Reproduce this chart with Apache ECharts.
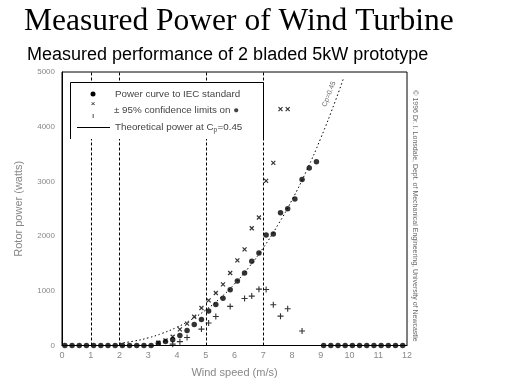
<!DOCTYPE html>
<html><head><meta charset="utf-8">
<script src="https://cdn.jsdelivr.net/npm/echarts@6/dist/echarts.min.js"></script>
<style>html,body{margin:0;padding:0;background:#fff}#c{width:512px;height:384px}</style>
</head><body><div id="c"></div>
<script>
// Power curve to IEC standard (bin speed m/s, power W)
const dotSpeeds = [0.1,0.35,0.6,0.85,1.1,1.35,1.6,1.85,2.1,2.35,2.6,2.85,3.1,3.35,3.6,3.85,4.1,4.35,4.6,4.85,5.1,5.35,5.6,5.85,6.1,6.35,6.6,6.85,7.1,7.35,7.6,7.85,8.1,8.35,8.6,8.85,
  9.1,9.35,9.6,9.85,10.1,10.35,10.6,10.85,11.1,11.35,11.6,11.85];
const dotPower = [0,0,0,0,0,0,0,0,0,0,0,0,0,40,75,105,185,275,385,475,630,750,865,1020,1180,1325,1540,1690,2020,2040,2425,2500,2680,3035,3245,3360,
  0,0,0,0,0,0,0,0,0,0,0,0];
// Upper 95% confidence limit (x)
const upSpeeds = [3.35,3.6,3.85,4.1,4.35,4.6,4.85,5.1,5.35,5.6,5.85,6.1,6.35,6.6,6.85,7.1,7.35,7.6,7.85];
const upPower  = [50,95,160,295,400,525,685,825,960,1117,1325,1557,1758,2143,2340,3010,3340,4320,4320];
// Lower 95% confidence limit (+)
const loSpeeds = [3.85,4.1,4.35,4.85,5.1,5.35,5.85,6.35,6.6,6.85,7.1,7.35,7.6,7.85,8.35];
const loPower  = [25,70,145,300,410,530,715,860,903,1030,1025,745,537,672,265];
// Theoretical power at Cp=0.45
const thSpeeds = [2,2.5,3,3.5,4,4.5,5,5.5,6,6.5,7,7.5,8,8.5,9,9.5,9.8];
const thPower  = [40,80,140,225,335,475,650,865,1125,1430,1785,2195,2660,3190,3790,4460,4900];
const xTicks = [0,1,2,3,4,5,6,7,8,9,10,11,12];
const yTicks = [0,1000,2000,3000,4000,5000];
const dashLines = [1,2,5,7];

const zip = (a,b)=>a.map((v,i)=>[v,b[i]]);
const chart = echarts.init(document.getElementById('c'));
const L = 62, R = 407, T = 72, B = 345.5;
chart.setOption({
  animation:false,
  title:[
    {text:'Measured Power of Wind Turbine', left:19, top:1,
     textStyle:{fontFamily:'Liberation Serif', fontSize:31.5, fontWeight:'normal', color:'#000'}},
    {text:'Measured performance of 2 bladed 5kW prototype', left:22, top:41,
     textStyle:{fontFamily:'Liberation Sans', fontSize:18, fontWeight:'normal', color:'#000'}}
  ],
  grid:{left:L, right:512-R, top:T, bottom:384-B, show:true, borderColor:'#000', borderWidth:1},
  xAxis:{type:'value', min:0, max:12, interval:1, name:'Wind speed (m/s)', nameLocation:'middle', nameGap:22,
    nameTextStyle:{fontFamily:'Liberation Sans', fontSize:11, color:'#888'},
    axisLine:{lineStyle:{color:'#000'}}, axisTick:{show:false}, splitLine:{show:false},
    axisLabel:{color:'#888', fontSize:9, fontFamily:'Liberation Sans', margin:6,
      formatter:v=>xTicks.includes(v)?String(v):''}},
  yAxis:{type:'value', min:0, max:5000, interval:1000, name:'Rotor power (watts)', nameLocation:'middle', nameGap:38,
    nameTextStyle:{fontFamily:'Liberation Sans', fontSize:11, color:'#888'},
    axisLine:{show:true, lineStyle:{color:'#000'}}, axisTick:{show:false}, splitLine:{show:false},
    axisLabel:{color:'#888', fontSize:8, fontFamily:'Liberation Sans', margin:7,
      formatter:v=>yTicks.includes(v)?String(v):''}},
  series:[
    {type:'line', data:zip(thSpeeds,thPower), smooth:true, symbol:'none',
     lineStyle:{color:'#000', width:1, type:[1.5,2.5]}, z:2,
     markLine:{silent:true, symbol:'none', label:{show:false},
       lineStyle:{color:'#000', width:1, type:[3,2]},
       data:dashLines.map(v=>({xAxis:v}))}},
    {type:'scatter', data:zip(dotSpeeds,dotPower), symbol:'circle', symbolSize:5.5,
     itemStyle:{color:'#000'}, z:5},
    {type:'scatter', data:zip(upSpeeds,upPower), symbol:'path://M0,0L10,10M10,0L0,10', symbolSize:4,
     itemStyle:{color:'none', borderColor:'#000', borderWidth:1.2}, z:4},
    {type:'scatter', data:zip(loSpeeds,loPower), symbol:'path://M5,0L5,10M0,5L10,5', symbolSize:6,
     itemStyle:{color:'none', borderColor:'#000', borderWidth:1.1}, z:4}
  ],
  graphic:[
    {type:'rect', shape:{x:70, y:82, width:193, height:57}, style:{fill:'#fff', stroke:'none'}, z:10},
    {type:'polyline', shape:{points:[[70.5,139],[70.5,82.5],[263.5,82.5],[263.5,139]]}, style:{stroke:'#000', lineWidth:1, fill:'none'}, z:11},
    {type:'circle', shape:{cx:93, cy:94, r:2.5}, style:{fill:'#000'}, z:11},
    {type:'text', style:{text:'×', x:93, y:104, fontSize:8, align:'center', verticalAlign:'middle', fill:'#000'}, z:11},
    {type:'text', style:{text:'ı', x:93, y:116, fontSize:8, align:'center', verticalAlign:'middle', fill:'#000'}, z:11},
    {type:'line', shape:{x1:77, y1:127.5, x2:110, y2:127.5}, style:{stroke:'#000', lineWidth:1}, z:11},
    {type:'text', style:{text:'Power curve to IEC standard', x:115, y:94, fontSize:9.8, fontFamily:'Liberation Sans', verticalAlign:'middle', fill:'#444'}, z:11},
    {type:'text', style:{text:'± 95% confidence limits on ●', x:114, y:110, fontSize:9.8, fontFamily:'Liberation Sans', verticalAlign:'middle', fill:'#444'}, z:11},
    {type:'text', style:{text:'Theoretical power at C', x:115, y:127, fontSize:9.8, fontFamily:'Liberation Sans', verticalAlign:'middle', fill:'#444'}, z:11},
    {type:'text', style:{text:'p', x:213.5, y:130, fontSize:6.5, fontFamily:'Liberation Sans', verticalAlign:'middle', fill:'#444'}, z:11},
    {type:'text', style:{text:'=0.45', x:217.5, y:127, fontSize:9.8, fontFamily:'Liberation Sans', verticalAlign:'middle', fill:'#444'}, z:11},
    {type:'text', x:329, y:94, rotation:1.2, style:{text:'Cp=0.45', fontSize:7, fontFamily:'Liberation Sans', align:'center', verticalAlign:'middle', fill:'#666'}, z:11},
    {type:'text', x:415, y:216, rotation:-Math.PI/2, style:{text:'© 1996 Dr. I. Lonsdale, Dept. of Mechanical Engineering, University of Newcastle', fontSize:7, fontFamily:'Liberation Sans', align:'center', verticalAlign:'middle', fill:'#666'}, z:11}
  ]
});
</script></body></html>
